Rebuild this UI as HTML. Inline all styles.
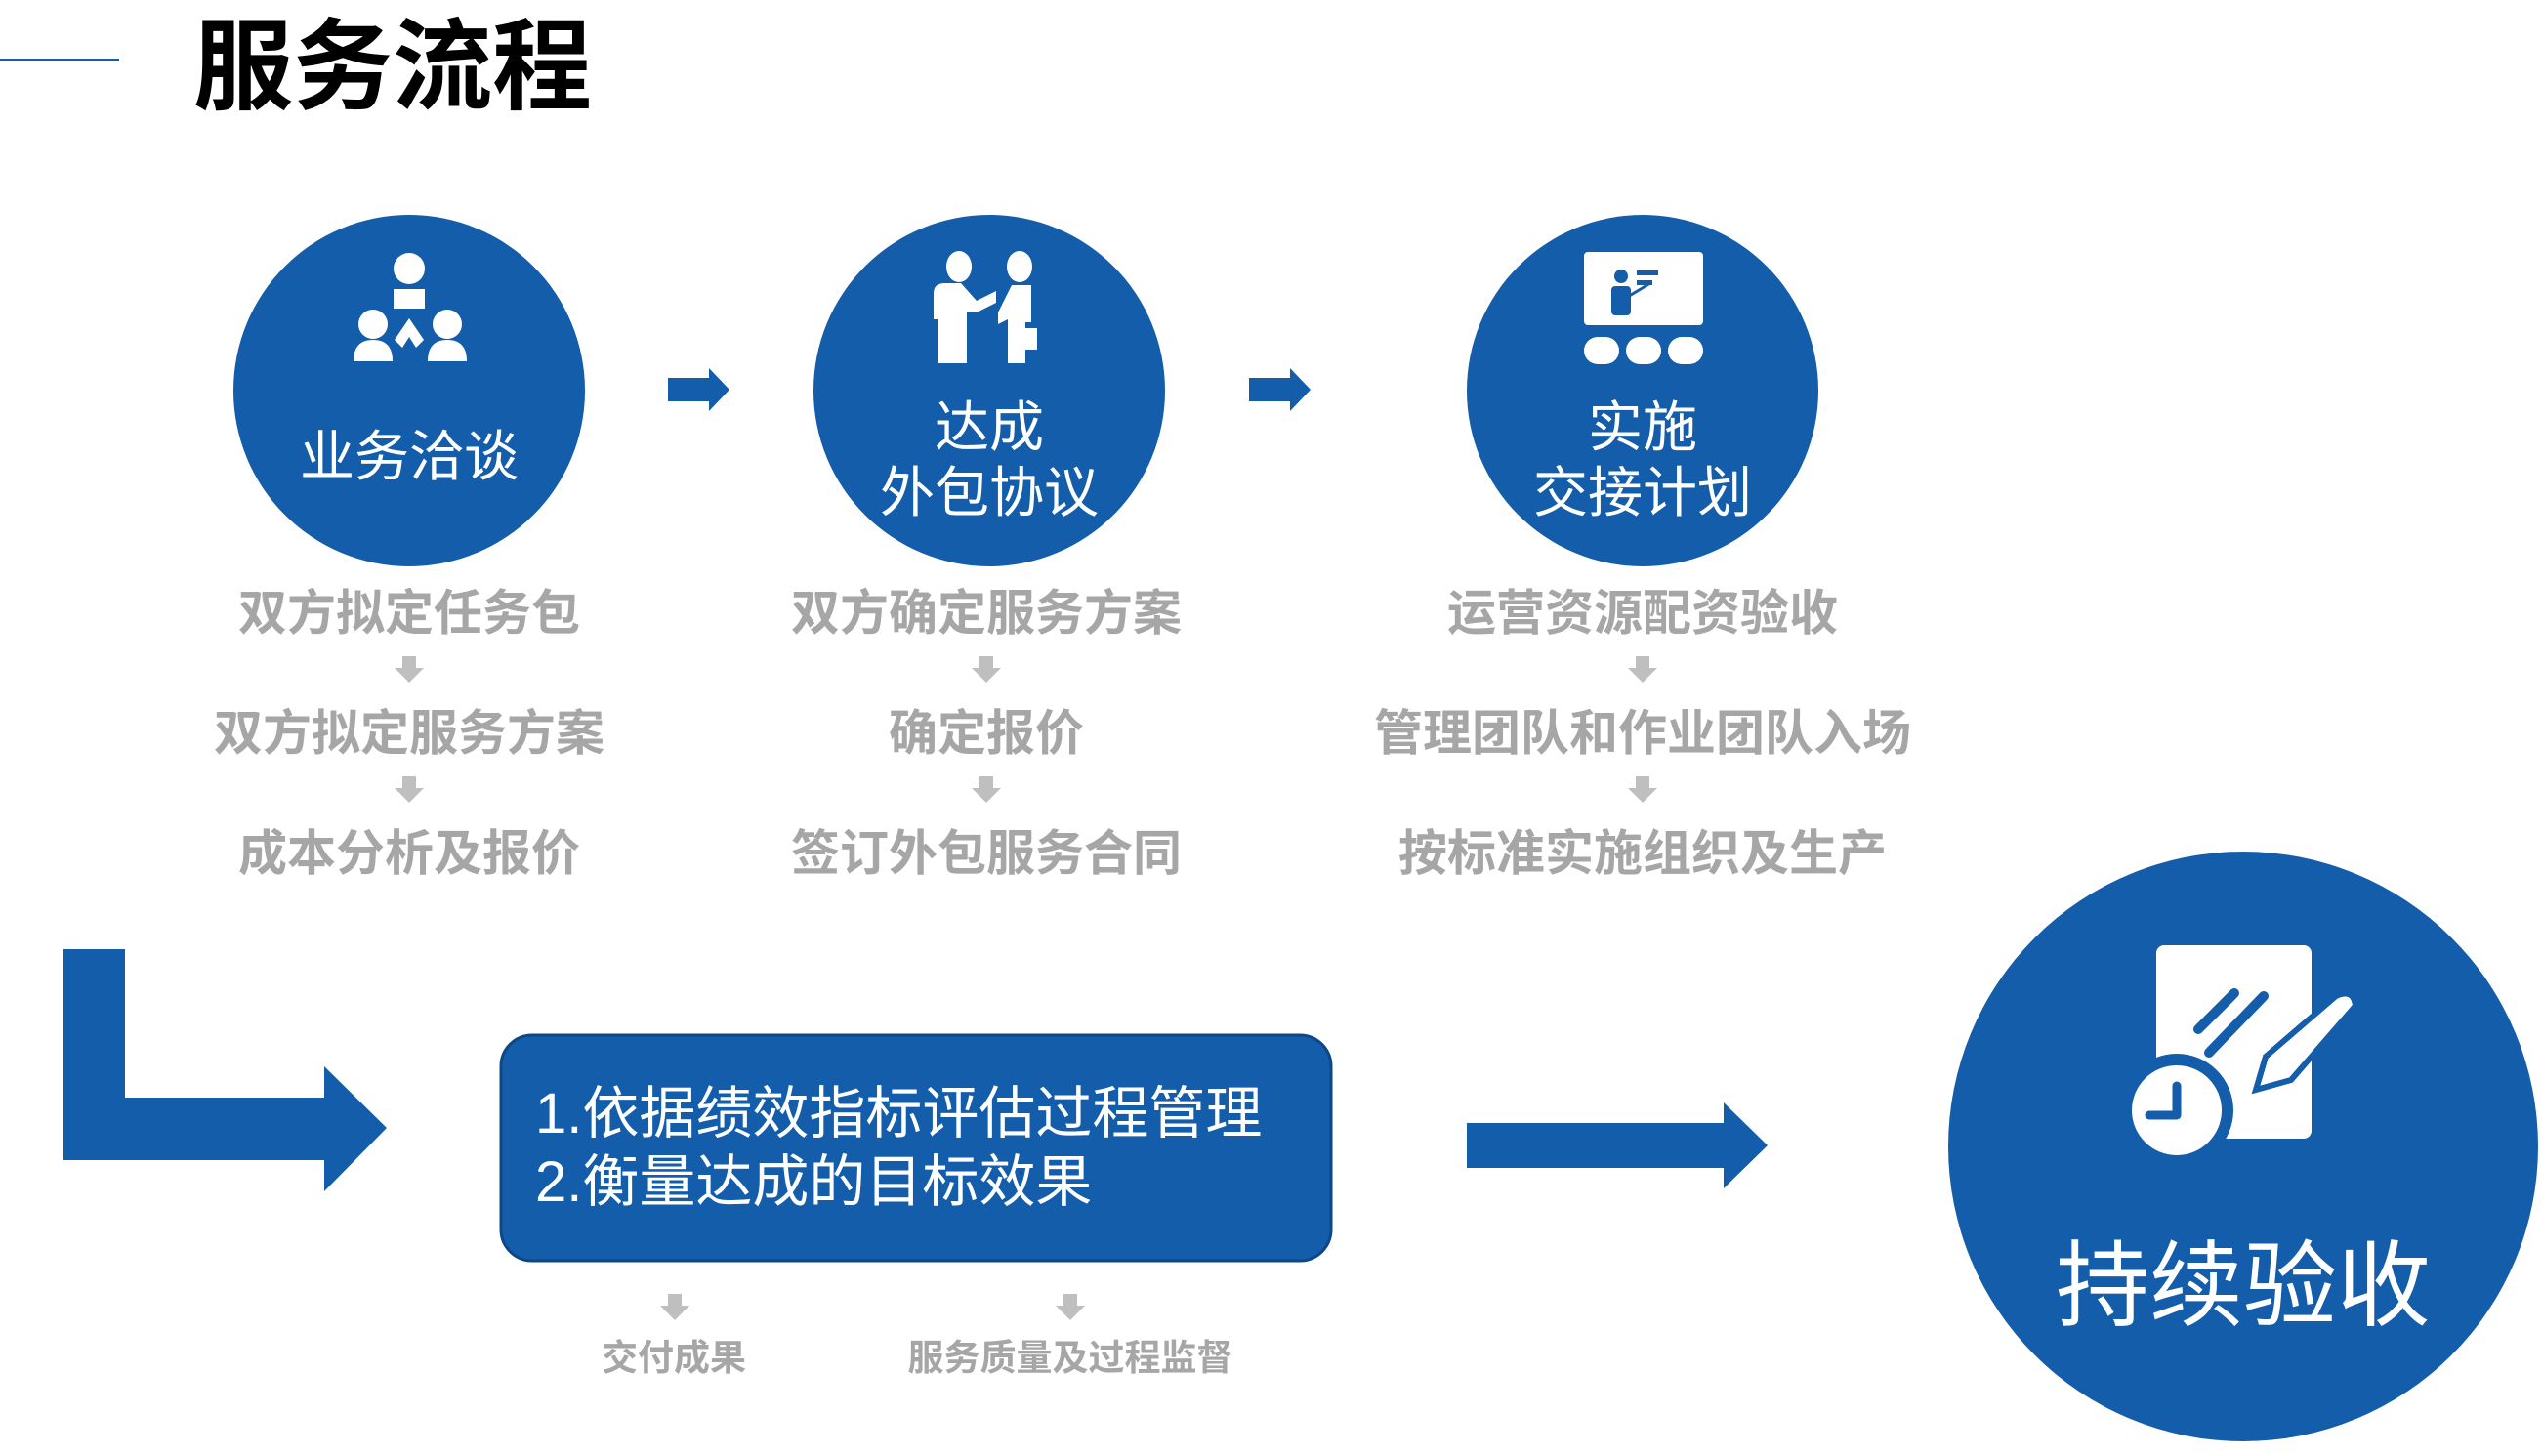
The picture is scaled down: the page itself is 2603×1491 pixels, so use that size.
<!DOCTYPE html>
<html><head><meta charset="utf-8"><style>
html,body{margin:0;padding:0;background:#fff;}
svg{display:block;}
text{font-family:"Liberation Sans","Noto Sans CJK SC",sans-serif;}
</style></head><body>
<svg width="2603" height="1491" viewBox="0 0 2603 1491" xmlns="http://www.w3.org/2000/svg">
<line x1="0" y1="61" x2="122" y2="61" stroke="#135DAA" stroke-width="2"/>
<text x="198" y="104" font-size="102" font-weight="bold" fill="#000">服务流程</text>

<g fill="#135DAA">
<circle cx="419" cy="400" r="180"/>
<circle cx="1013" cy="400" r="180"/>
<circle cx="1682" cy="400" r="180"/>
<circle cx="2297" cy="1174" r="302"/>
<polygon points="684,387 726,387 726,377 747,399 726,421 726,411 684,411"/>
<polygon points="1279,387 1321,387 1321,377 1342,399 1321,421 1321,411 1279,411"/>
<polygon points="65,972 128,972 128,1124 332,1124 332,1092 396,1155 332,1220 332,1188 65,1188"/>
<polygon points="1502,1150 1765,1150 1765,1129 1810,1173 1765,1217 1765,1196 1502,1196"/>
<rect x="513" y="1060" width="850" height="231" rx="32" stroke="#0c4888" stroke-width="3"/>
</g>

<!-- icon 1 -->
<g fill="#fff">
<circle cx="419" cy="275" r="16"/>
<path d="M403 296 h32 v20 h-32z"/>
<circle cx="382" cy="332" r="15"/>
<circle cx="458" cy="332" r="15"/>
<path d="M362 370 q0-22 20-22 q20 0 20 22z"/>
<path d="M438 370 q0-22 20-22 q20 0 20 22z"/>
<polygon points="419,326 404,348 412,356 419,345 426,356 434,348"/>
</g>
<!-- icon 2 -->
<g fill="#fff">
<ellipse cx="982" cy="273" rx="13" ry="16"/>
<ellipse cx="1044" cy="273" rx="13" ry="16"/>
<path d="M956 300 q0-10 12-10 h16 l16 18 l20 -10 v12 l-20 10 h-10 v52 h-30 v-45 h-4z"/>
<path d="M1036 292 h20 v38 h-6 v42 h-18 v-45 l-10 5 v-12z"/>
<rect x="1048" y="336" width="14" height="22"/>
</g>
<!-- icon 3 -->
<g fill="#fff">
<rect x="1622" y="258" width="122" height="75" rx="4"/>
<rect x="1622" y="345" width="36" height="28" rx="14"/>
<rect x="1665" y="345" width="36" height="28" rx="14"/>
<rect x="1708" y="345" width="36" height="28" rx="14"/>
</g>
<g fill="#135DAA">
<circle cx="1660" cy="283" r="7"/>
<rect x="1650" y="293" width="20" height="30" rx="4"/>
<rect x="1676" y="277" width="22" height="5"/>
<rect x="1676" y="287" width="16" height="5"/>
</g>
<line x1="1665" y1="305" x2="1690" y2="290" stroke="#135DAA" stroke-width="3"/>

<!-- icon 4 -->
<rect x="2208" y="968" width="159" height="198" rx="8" fill="#fff"/>
<g stroke="#135DAA" stroke-width="10" stroke-linecap="round">
<line x1="2251" y1="1054" x2="2288" y2="1017"/>
<line x1="2262" y1="1078" x2="2318" y2="1020"/>
</g>
<path d="M2320 1082 L2392 1020 Q2410 1012 2412 1030 L2346 1106 L2310 1116 Z" fill="#fff" stroke="#135DAA" stroke-width="6"/>
<circle cx="2229" cy="1137" r="58" fill="#135DAA"/>
<circle cx="2229" cy="1137" r="46" fill="#fff"/>
<path d="M2229 1112 v30 h-28" fill="none" stroke="#135DAA" stroke-width="9" stroke-linecap="round" stroke-linejoin="round"/>

<g fill="#fff" text-anchor="middle" font-size="56">
<text x="419" y="487">业务洽谈</text>
<text x="1013" y="457">达成</text>
<text x="1013" y="524">外包协议</text>
<text x="1682" y="457">实施</text>
<text x="1682" y="524">交接计划</text>
<text x="2297" y="1350" font-size="96">持续验收</text>
</g>
<g fill="#fff" font-size="58">
<text x="548" y="1160">1.依据绩效指标评估过程管理</text>
<text x="548" y="1230">2.衡量达成的目标效果</text>
</g>

<g fill="#a6a6a6" font-weight="bold" text-anchor="middle" font-size="50">
<text x="419" y="645">双方拟定任务包</text>
<text x="419" y="768">双方拟定服务方案</text>
<text x="419" y="891">成本分析及报价</text>
<text x="1010" y="645">双方确定服务方案</text>
<text x="1010" y="768">确定报价</text>
<text x="1010" y="891">签订外包服务合同</text>
<text x="1682" y="645">运营资源配资验收</text>
<text x="1682" y="768">管理团队和作业团队入场</text>
<text x="1682" y="891">按标准实施组织及生产</text>
<text x="690" y="1403" font-size="37">交付成果</text>
<text x="1096" y="1403" font-size="37">服务质量及过程监督</text>
</g>
<g fill="#bfbfbf">
<path id="da" d="M-7 0 h14 v12 h8 l-15 15 l-15 -15 h8z" transform="translate(419,672)"/>
<use href="#da" transform="translate(0,123)"/>
<use href="#da" transform="translate(591,0)"/>
<use href="#da" transform="translate(591,123)"/>
<use href="#da" transform="translate(1263,0)"/>
<use href="#da" transform="translate(1263,123)"/>
<use href="#da" transform="translate(272,653)"/>
<use href="#da" transform="translate(677,653)"/>
</g>
</svg>
</body></html>
